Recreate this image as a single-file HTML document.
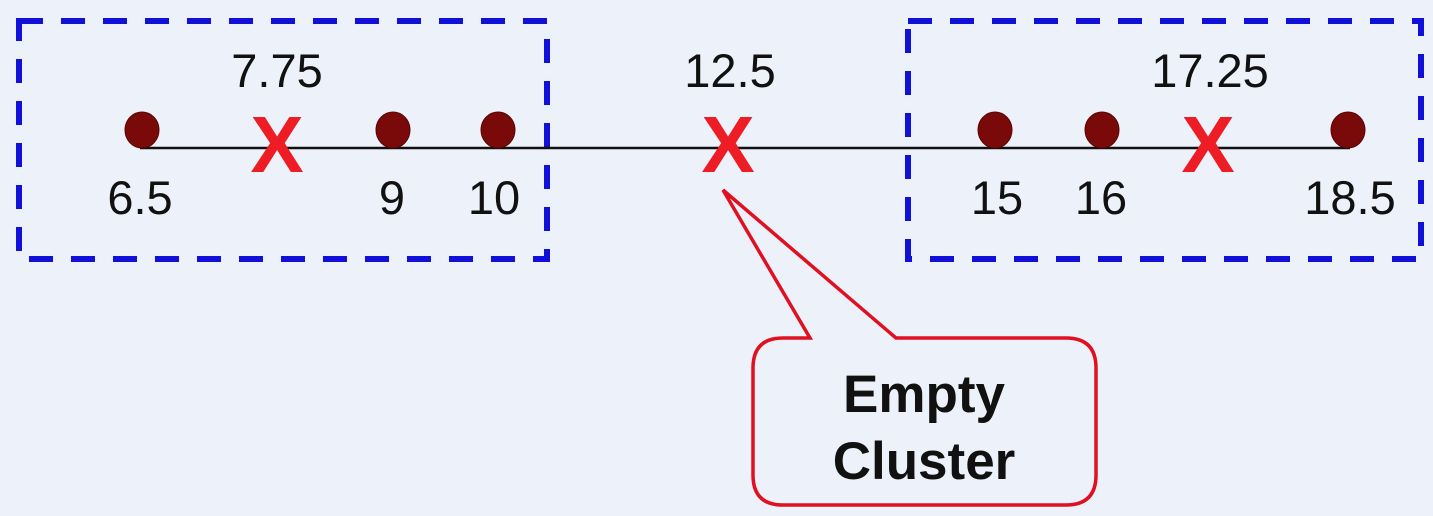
<!DOCTYPE html>
<html><head><style>body{margin:0;background:#edf2fa}</style></head><body>
<svg width="1433" height="516" xmlns="http://www.w3.org/2000/svg" style="display:block">
<rect width="1433" height="516" fill="#edf2fa"/>
<g fill="none" stroke="#1010d8" stroke-width="6" stroke-dasharray="24,18">
<rect x="19" y="21" width="528" height="238"/>
<rect x="908" y="21" width="513" height="238"/>
</g>
<line x1="140" y1="148" x2="1350" y2="148" stroke="#111" stroke-width="2.5"/>
<g fill="#7a0a0a" stroke="#5a0505" stroke-width="1">
<ellipse cx="142" cy="130" rx="17" ry="18"/>
<ellipse cx="393" cy="130" rx="17" ry="18"/>
<ellipse cx="498" cy="130" rx="17" ry="18"/>
<ellipse cx="995" cy="130" rx="17" ry="18"/>
<ellipse cx="1102" cy="130" rx="17" ry="18"/>
<ellipse cx="1348" cy="130" rx="17" ry="18"/>
</g>
<g font-family="Liberation Sans, sans-serif" font-weight="bold" font-size="80" fill="#ee1c24" text-anchor="middle">
<text x="277" y="172">X</text>
<text x="728" y="172">X</text>
<text x="1208" y="172">X</text>
</g>
<g font-family="Liberation Sans, sans-serif" font-size="47" fill="#111" text-anchor="middle">
<text x="277" y="87">7.75</text>
<text x="730" y="87">12.5</text>
<text x="1210" y="87">17.25</text>
<text x="140" y="214">6.5</text>
<text x="392" y="214">9</text>
<text x="494" y="214">10</text>
<text x="997" y="214">15</text>
<text x="1101" y="214">16</text>
<text x="1350" y="214">18.5</text>
</g>
<path d="M783,338 L810,338 L723,190 L896,338 L1066,338 Q1096,338 1096,368 L1096,475 Q1096,505 1066,505 L783,505 Q753,505 753,475 L753,368 Q753,338 783,338 Z" fill="#edf2fa" stroke="#e01020" stroke-width="3.5"/>
<g font-family="Liberation Sans, sans-serif" font-weight="bold" font-size="53" fill="#111" text-anchor="middle">
<text x="924" y="412">Empty</text>
<text x="924" y="479">Cluster</text>
</g>
</svg>
</body></html>
